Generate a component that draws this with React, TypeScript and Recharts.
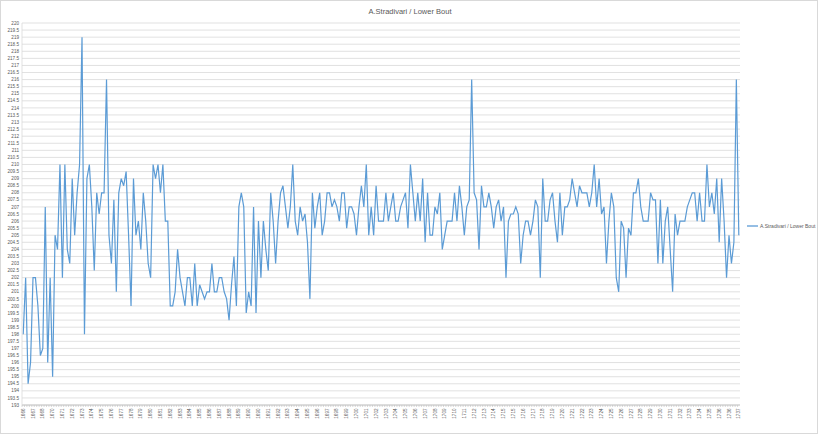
import React from 'react';
import { LineChart, Line, XAxis, YAxis, CartesianGrid, Legend } from 'recharts';

// one entry per instrument, in date order
const years = [
  1666, 1666, 1666, 1666, 1667, 1667, 1667, 1667,
  1668, 1668, 1668, 1668, 1670, 1670, 1670, 1670,
  1671, 1671, 1671, 1671, 1672, 1672, 1672, 1672,
  1673, 1673, 1673, 1673, 1674, 1674, 1674, 1674,
  1675, 1675, 1675, 1675, 1676, 1676, 1676, 1676,
  1677, 1677, 1677, 1677, 1678, 1678, 1678, 1678,
  1679, 1679, 1679, 1679, 1680, 1680, 1680, 1680,
  1681, 1681, 1681, 1681, 1682, 1682, 1682, 1682,
  1683, 1683, 1683, 1683, 1684, 1684, 1684, 1684,
  1685, 1685, 1685, 1685, 1686, 1686, 1686, 1686,
  1687, 1687, 1687, 1687, 1688, 1688, 1688, 1688,
  1689, 1689, 1689, 1689, 1690, 1690, 1690, 1690,
  1690, 1690, 1690, 1690, 1691, 1691, 1691, 1691,
  1692, 1692, 1692, 1692, 1693, 1693, 1693, 1693,
  1694, 1694, 1694, 1694, 1695, 1695, 1695, 1695,
  1696, 1696, 1696, 1696, 1697, 1697, 1697, 1697,
  1698, 1698, 1698, 1698, 1699, 1699, 1699, 1699,
  1700, 1700, 1700, 1700, 1701, 1701, 1701, 1701,
  1702, 1702, 1702, 1702, 1703, 1703, 1703, 1703,
  1704, 1704, 1704, 1704, 1705, 1705, 1705, 1705,
  1706, 1706, 1706, 1706, 1707, 1707, 1707, 1707,
  1708, 1708, 1708, 1708, 1709, 1709, 1709, 1709,
  1710, 1710, 1710, 1710, 1711, 1711, 1711, 1711,
  1712, 1712, 1712, 1712, 1713, 1713, 1713, 1713,
  1714, 1714, 1714, 1714, 1715, 1715, 1715, 1715,
  1715, 1715, 1715, 1715, 1716, 1716, 1716, 1716,
  1717, 1717, 1717, 1717, 1718, 1718, 1718, 1718,
  1719, 1719, 1719, 1719, 1720, 1720, 1720, 1720,
  1721, 1721, 1721, 1721, 1722, 1722, 1722, 1722,
  1723, 1723, 1723, 1723, 1724, 1724, 1724, 1724,
  1725, 1725, 1725, 1725, 1726, 1726, 1726, 1726,
  1727, 1727, 1727, 1727, 1728, 1728, 1728, 1728,
  1729, 1729, 1729, 1729, 1730, 1730, 1730, 1730,
  1731, 1731, 1731, 1731, 1732, 1732, 1732, 1732,
  1733, 1733, 1733, 1733, 1734, 1734, 1734, 1734,
  1735, 1735, 1735, 1735, 1736, 1736, 1736, 1736,
  1736, 1736, 1736, 1736, 1737,
];

const lowerBout = [
  198, 202, 194.5, 196, 202, 202, 200, 196.5, 197, 207,
  196, 202, 195, 205, 204, 210, 202, 210, 204, 203,
  209, 205, 208, 210, 219, 198, 209, 210, 207, 202.5,
  208, 206.5, 208, 208, 216, 205, 203, 207.5, 201, 208,
  209, 208.5, 209.5, 205, 200, 209, 205, 206, 204, 208,
  206, 203, 202, 210, 209, 210, 208, 210, 206, 206,
  200, 200, 201, 204, 202, 201, 200, 202, 202, 200,
  203, 200, 201.5, 201, 200.5, 201, 201, 203, 201, 201,
  202, 202, 201, 200.5, 199, 201.5, 203.5, 200, 207, 208,
  207, 199.5, 201, 200, 207, 199.5, 206, 202, 206, 204,
  202.5, 208, 206, 203, 206, 208, 208.5, 207, 205.5, 207,
  210, 206, 205, 207, 206, 206.5, 204.5, 200.5, 208, 205.5,
  207, 208, 205, 206, 208, 208, 207, 207.5, 207, 206,
  208, 208, 205.5, 207, 207, 206.5, 205, 207, 208.5, 207,
  210, 205, 207, 205, 208.5, 206, 206, 206, 208, 206,
  207, 208, 206, 206, 207, 207.5, 208, 205.5, 210, 208,
  206, 208, 206, 209, 204.5, 208, 205, 205, 207, 206.5,
  208, 204, 205, 206, 206, 206, 208, 206, 208.5, 207,
  205, 207, 207.5, 216, 208, 207.5, 204, 208.5, 207, 207,
  208, 207, 205.5, 207, 207.5, 206, 207, 202, 206, 206.5,
  206.5, 207, 206.5, 203, 205, 206, 206, 205, 206, 207.5,
  207, 202, 209, 206, 206, 207.5, 208, 206, 204.5, 208,
  205, 207, 207, 207.5, 209, 208, 207, 208.5, 208, 208,
  208, 207, 208, 210, 207, 209, 206.5, 207, 203, 206,
  208, 207, 202, 201, 206, 205.5, 202, 205.5, 205, 208,
  208, 209, 207, 206, 206, 206, 208, 207.5, 207.5, 203,
  207.5, 203, 206, 207, 204, 201, 206.5, 205, 206, 206,
  206, 207, 207.5, 208, 208, 206, 208, 206, 206, 210,
  207, 208, 206.5, 209, 204.5, 209, 206, 202, 205, 203,
  204.5, 216, 205,
];

const yTicks = [
  193, 193.5, 194, 194.5, 195, 195.5, 196, 196.5, 197, 197.5,
  198, 198.5, 199, 199.5, 200, 200.5, 201, 201.5, 202, 202.5,
  203, 203.5, 204, 204.5, 205, 205.5, 206, 206.5, 207, 207.5,
  208, 208.5, 209, 209.5, 210, 210.5, 211, 211.5, 212, 212.5,
  213, 213.5, 214, 214.5, 215, 215.5, 216, 216.5, 217, 217.5,
  218, 218.5, 219, 219.5, 220,
];

const SERIES_NAME = 'A.Stradivari / Lower Bout';
const LINE_COLOR = '#5b9bd5';
const TEXT_COLOR = '#595959';
const FONT = '"Liberation Sans", Arial, sans-serif';

const data = years.map((year, i) => ({ year, value: lowerBout[i] }));

// Excel style: tiny mark on every category, a rotated label on every 4th
const YearTick = (props: any) => {
  const { x, y, payload, index } = props;
  return (
    <g>
      <line x1={x - 1.2} x2={x - 1.2} y1={y - 2} y2={y} stroke="#bfbfbf" strokeWidth={0.6} />
      {index % 4 === 0 && (
        <text
          transform={`translate(${x + 1.6},${y + 1.5}) rotate(-90)`}
          textAnchor="end"
          fontSize={4.6}
          fill={TEXT_COLOR}
          fontFamily={FONT}
        >
          {payload.value}
        </text>
      )}
    </g>
  );
};

const LegendBox = () => (
  <div style={{ display: 'flex', alignItems: 'center', fontFamily: FONT, fontSize: 5, color: TEXT_COLOR, whiteSpace: 'nowrap' }}>
    <svg width={11} height={4} style={{ marginRight: 2 }}>
      <line x1={0} y1={2} x2={11} y2={2} stroke={LINE_COLOR} strokeWidth={1.3} />
    </svg>
    <span>{SERIES_NAME}</span>
  </div>
);

export default function App() {
  return (
    <div
      style={{
        position: 'absolute',
        left: 0,
        top: 0,
        width: 818,
        height: 434,
        background: '#fff',
        border: '1px solid #d9d9d9',
        boxSizing: 'border-box',
        overflow: 'hidden',
      }}
    >
      <div
        style={{
          position: 'absolute',
          top: 6,
          left: 0,
          width: 818,
          textAlign: 'center',
          fontFamily: FONT,
          fontSize: 7.5,
          color: TEXT_COLOR,
        }}
      >
        {SERIES_NAME}
      </div>
      <div style={{ position: 'absolute', left: -1, top: -1 }}>
        <LineChart width={818} height={434} data={data} margin={{ top: 23, right: 78, bottom: 0, left: 0 }}>
          <CartesianGrid vertical={false} stroke="#d9d9d9" strokeWidth={0.8} />
          <XAxis
            dataKey="year"
            interval={0}
            height={23}
            tick={<YearTick />}
            tickLine={false}
            tickSize={0}
            tickMargin={2}
            axisLine={{ stroke: '#bfbfbf', strokeWidth: 0.8 }}
            padding={{ left: 1.2, right: 1.2 }}
          />
          <YAxis
            width={22}
            domain={[193, 220]}
            ticks={yTicks}
            interval={0}
            tickLine={false}
            tickSize={0}
            tickMargin={3}
            axisLine={{ stroke: '#d9d9d9', strokeWidth: 0.8 }}
            tick={{ fontSize: 4.6, fill: TEXT_COLOR, fontFamily: FONT }}
          />
          <Legend
            content={<LegendBox />}
            wrapperStyle={{ position: 'absolute', left: 747, top: 223, width: 70, height: 6 }}
          />
          <Line
            type="linear"
            dataKey="value"
            name={SERIES_NAME}
            stroke={LINE_COLOR}
            strokeWidth={1.2}
            dot={false}
            isAnimationActive={false}
          />
        </LineChart>
      </div>
    </div>
  );
}
